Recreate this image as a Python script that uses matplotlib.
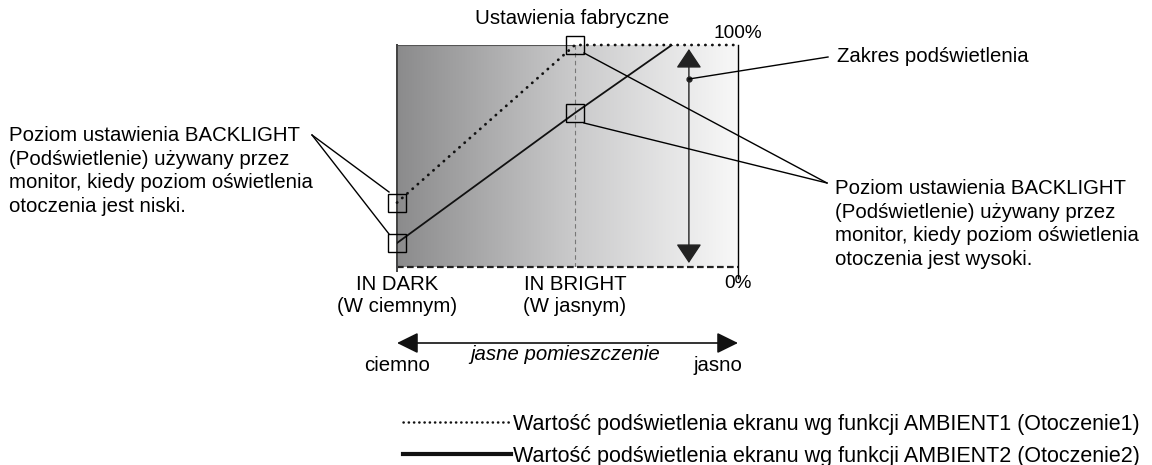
import numpy as np
import matplotlib
matplotlib.use("Agg")
import matplotlib.pyplot as plt
from matplotlib.colors import LinearSegmentedColormap
from matplotlib.lines import Line2D

matplotlib.rcParams["font.family"] = ["Liberation Sans", "DejaVu Sans"]
FONT_SIZE = 14.7

# --- data (x: 0 = dark room, 1 = bright room; y: backlight %) ---
ambient_x = [0.0, 0.522, 1.0]
ambient1 = [29.0, 100.0, 100.0]
ambient2_x = [0.0, 0.522, 0.806]
ambient2 = [10.8, 69.4, 100.0]
tick_pos = [0.0, 0.522]
tick_labels = ["IN DARK\n(W ciemnym)", "IN BRIGHT\n(W jasnym)"]
range_x = 0.856
range_lo, range_hi = 1.8, 98.2
range_dot = 84.7

W, H = 1152, 465


def fx(px):
    return px / W


def fy(py):
    return 1 - py / H


def ay(py):
    # pixel row -> axes fraction (box spans rows 45..267)
    return (267 - py) / 222


fig = plt.figure(figsize=(W / 100, H / 100), dpi=100)
ax = fig.add_axes([fx(397), fy(267), (738 - 397) / W, (267 - 45) / H])
ax.set_xlim(0, 1)
ax.set_ylim(0, 100)

# background gradient
cmap = LinearSegmentedColormap.from_list("bg", ["#8b8b8c", "#c8c8c9", "#f8f8f8"])
ax.imshow(np.linspace(0, 1, 256).reshape(1, -1), extent=[0, 1, 0, 100],
          aspect="auto", cmap=cmap, zorder=0)

for s in ["top", "bottom", "right"]:
    ax.spines[s].set_visible(False)
ax.spines["left"].set_color("#444444")
ax.spines["left"].set_linewidth(1.4)
ax.axvline(1, ymin=-0.05, ymax=1.0, color="black", lw=1.0, clip_on=False)
ax.axvline(0, ymin=-0.02, ymax=1.0, color="#444444", lw=1.4, clip_on=False)
ax.axhline(100, xmax=0.522, color="#555555", lw=0.8)
ax.axhline(0, color="#222222", lw=1.6, ls=(0, (3, 1.5)), clip_on=False)
ax.axvline(tick_pos[1], color="#777777", lw=0.8, ls=(0, (4, 3)))

ax.set_yticks([])
ax.set_xticks(tick_pos, tick_labels, fontsize=FONT_SIZE, linespacing=1.15)
ax.tick_params(axis="x", length=0, pad=6)

# data lines
ax.plot(ambient_x, ambient1, color="#111111", lw=2.0, ls=(0, (0.1, 2.4)),
        dash_capstyle="round", clip_on=False, zorder=3)
ax.plot(ambient2_x, ambient2, color="#111111", lw=1.3, zorder=3)

# small squares marking the set points
sq = dict(marker="s", ms=13.5, mfc="none", mec="black", mew=1.0, ls="none",
          clip_on=False, zorder=4)
ax.plot(ambient_x[:2], ambient1[:2], **sq)
ax.plot(ambient2_x[:2], ambient2[:2], **sq)

# backlight range arrow
ax.annotate("", xy=(range_x, range_hi), xytext=(range_x, range_lo),
            arrowprops=dict(arrowstyle="<|-|>,head_length=0.6,head_width=0.4",
                            mutation_scale=20, color="#222222", lw=1.0,
                            shrinkA=0, shrinkB=0))
ax.plot([range_x], [range_dot], "o", color="#222222", ms=3.5, zorder=4)

# percentage labels
ax.annotate("100%", xy=(1, 100), xytext=(0, 3), textcoords="offset pixels",
            ha="center", va="bottom", fontsize=FONT_SIZE - 1, annotation_clip=False)
ax.annotate("0%", xy=(1, 0), xytext=(0, -8), textcoords="offset pixels",
            ha="center", va="top", fontsize=FONT_SIZE - 1, annotation_clip=False)

# room brightness arrow
xt = ax.get_xaxis_transform()
ax.annotate("", xy=(1, ay(343)), xytext=(0, ay(343)), xycoords=xt, textcoords=xt,
            arrowprops=dict(arrowstyle="<|-|>,head_length=0.65,head_width=0.32",
                            mutation_scale=20, color="#111111", lw=1.2,
                            shrinkA=0, shrinkB=0))
ax.text(0, ay(365), "ciemno", transform=xt, ha="center", va="center", fontsize=FONT_SIZE)
ax.text(0.941, ay(365), "jasno", transform=xt, ha="center", va="center", fontsize=FONT_SIZE)
ax.text(0.493, ay(354), "jasne pomieszczenie", transform=xt, ha="center", va="center",
        fontsize=FONT_SIZE, style="italic")

# annotations
fig.text(fx(572), fy(18), "Ustawienia fabryczne", ha="center", va="center", fontsize=FONT_SIZE)
fig.text(fx(837), fy(57), "Zakres podświetlenia", ha="left", va="center", fontsize=FONT_SIZE)
fig.text(fx(9), fy(171),
         "Poziom ustawienia BACKLIGHT\n(Podświetlenie) używany przez\n"
         "monitor, kiedy poziom oświetlenia\notoczenia jest niski.",
         ha="left", va="center", fontsize=FONT_SIZE, linespacing=1.3)
fig.text(fx(835), fy(224),
         "Poziom ustawienia BACKLIGHT\n(Podświetlenie) używany przez\n"
         "monitor, kiedy poziom oświetlenia\notoczenia jest wysoki.",
         ha="left", va="center", fontsize=FONT_SIZE, linespacing=1.3)

leaders = [
    ((312, 135), (389, 192)),
    ((312, 135), (389, 234)),
    ((827, 183), (584, 53)),
    ((827, 183), (584, 123)),
    ((689, 79), (828, 57)),
]
for (x0, y0), (x1, y1) in leaders:
    fig.add_artist(Line2D([fx(x0), fx(x1)], [fy(y0), fy(y1)], color="black", lw=1.0,
                          transform=fig.transFigure))

# legend
handles = [
    Line2D([], [], color="#111111", lw=1.8, ls=(0, (0.1, 2.0)), dash_capstyle="round"),
    Line2D([], [], color="#111111", lw=3.0),
]
labels = [
    "Wartość podświetlenia ekranu wg funkcji AMBIENT1 (Otoczenie1)",
    "Wartość podświetlenia ekranu wg funkcji AMBIENT2 (Otoczenie2)",
]
fig.legend(handles, labels, loc="upper left", bbox_to_anchor=(fx(403), fy(414)),
           frameon=False, fontsize=15.5, handlelength=5.0,
           handletextpad=0.1, labelspacing=0.5, borderpad=0, borderaxespad=0)

fig.savefig("out.png", dpi=100)
